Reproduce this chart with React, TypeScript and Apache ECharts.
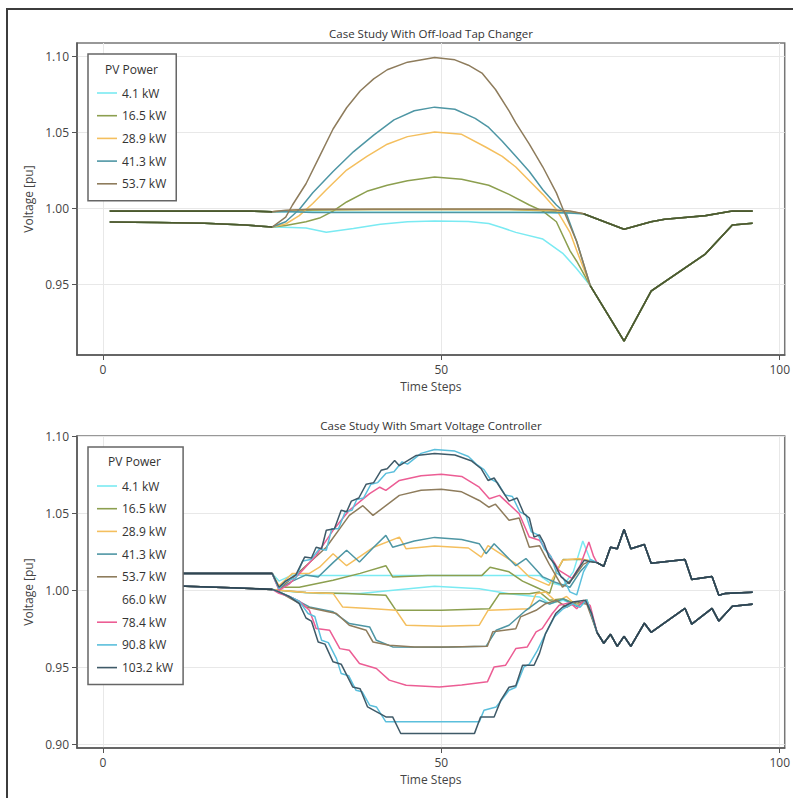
import React, { useEffect, useRef } from 'react';
import * as echarts from 'echarts';

// ---------- names / colours ----------
const topNames = ['4.1 kW', '16.5 kW', '28.9 kW', '41.3 kW', '53.7 kW'];
const botNames = ['4.1 kW', '16.5 kW', '28.9 kW', '41.3 kW', '53.7 kW', '66.0 kW', '78.4 kW', '90.8 kW', '103.2 kW'];
const topColors = ['#7aeaf2', '#8c9f4f', '#f4bf5e', '#4e96a4', '#8e7c5c'];
const botColors = ['#7aeaf2', '#8c9f4f', '#f4bf5e', '#4e96a4', '#8e7c5c', '#ffffff', '#ec5d94', '#5bbfdc', '#3f5a68'];
const xTicks = [0, 50, 100];
const topYTicks = [0.95, 1.0, 1.05, 1.1];
const botYTicks = [0.9, 0.95, 1.0, 1.05, 1.1];

// ---------- top chart (Off-load Tap Changer) ----------
const topStartA = [[1, 0.998], [12, 0.998], [22, 0.998], [25, 0.9975]];
const topStartB = [[1, 0.9908], [8, 0.9905], [15, 0.99], [21, 0.9888], [25, 0.9875]];
const topEndA = [[71, 0.9962], [77, 0.986], [81, 0.991], [83, 0.9926], [89, 0.995], [93, 0.998], [96, 0.998]];
const topEndB = [[72, 0.949], [77, 0.9125], [81, 0.9454], [89, 0.9697], [93, 0.9888], [96, 0.99]];

const top41A = [[27, 0.9975], [35, 0.9972], [50, 0.9972], [62, 0.9972], [68, 0.9968]];
const top165A = [[27, 0.998], [30, 0.9985], [40, 0.999], [60, 0.999], [66, 0.998], [69, 0.9975]];
const top289A = [[27, 0.9982], [30, 0.999], [60, 0.999], [66, 0.9985], [69, 0.9975]];
const top413A = [[27, 0.9978], [31, 0.997], [60, 0.997], [66, 0.997], [69, 0.9968]];
const top537A = [[27, 0.9985], [31, 0.9992], [60, 0.9993], [66, 0.999], [69, 0.998]];

const top41B = [[28, 0.9872], [30, 0.9868], [33, 0.984], [37, 0.9865], [41, 0.9893], [45, 0.991], [49, 0.9914], [54, 0.9912], [57, 0.9898], [59, 0.987], [61, 0.984], [65, 0.9796], [68, 0.97], [70, 0.96]];
const top165B = [[27, 0.9885], [30, 0.991], [32, 0.9934], [34, 0.998], [36, 1.004], [39, 1.011], [42, 1.015], [45, 1.018], [49, 1.0204], [53, 1.019], [57, 1.015], [60, 1.009], [63, 1.002], [65, 0.998], [67, 0.991], [69, 0.972], [70, 0.965]];
const top289B = [[27, 0.9895], [29, 0.995], [31, 1.003], [33, 1.012], [36, 1.025], [39, 1.034], [42, 1.042], [45, 1.047], [49, 1.05], [53, 1.0485], [56.6, 1.04], [59, 1.034], [61, 1.027], [63, 1.018], [65, 1.009], [67, 0.999], [69, 0.984], [70, 0.972]];
const top413B = [[27, 0.991], [29, 0.999], [31, 1.01], [34, 1.024], [37, 1.037], [40, 1.048], [43, 1.058], [46, 1.064], [49, 1.0664], [52, 1.065], [55, 1.059], [57, 1.053], [59, 1.044], [61, 1.034], [63, 1.024], [65, 1.012], [67, 1.002], [68.5, 0.996], [70, 0.978]];
const top537B = [[27, 0.994], [28, 1.002], [30, 1.016], [32, 1.034], [34, 1.052], [36, 1.066], [38, 1.077], [40, 1.085], [42, 1.091], [45, 1.096], [49, 1.099], [52, 1.0975], [54, 1.094], [56, 1.0888], [58, 1.078], [60, 1.064], [61, 1.056], [63, 1.042], [65, 1.027], [67, 1.01], [68, 0.999], [70, 0.978]];

// ---------- bottom chart (Smart Voltage Controller) ----------
const botStartU = [[1, 1.011], [10, 1.011], [20, 1.011], [25, 1.011]];
const botStartL = [[1, 1.0036], [10, 1.003], [20, 1.0015], [25, 1.0006]];
const botEndU = [[73, 1.018], [74, 1.0156], [75, 1.028], [76, 1.027], [77, 1.0396], [78, 1.027], [80, 1.0298], [81, 1.0176], [86, 1.02], [87, 1.0071], [90, 1.009], [91, 0.9968], [92, 0.998], [96, 0.9987]];
const botEndL = [[73, 0.9727], [74, 0.9656], [75, 0.9714], [76, 0.9636], [77, 0.9701], [78, 0.9636], [80, 0.9786], [81, 0.9727], [86, 0.9883], [87, 0.978], [90, 0.9883], [91, 0.98], [93, 0.9896], [96, 0.991]];

const bot41U = [[26, 1.006], [28, 1.01], [30, 1.0097], [50, 1.0097], [64.5, 1.0097], [66, 1.005], [68, 1.003], [69.5, 1.012], [70.9, 1.032], [72, 1.02]];
const bot41L = [[26, 1.0], [28, 0.999], [32, 0.998], [38, 0.998], [44, 1.0005], [49, 1.0026], [55.6, 1.001], [60, 0.9978], [64.5, 0.9957], [66, 0.9913], [68, 0.9935], [70, 0.99], [71.5, 0.9935]];
const bot165U = [[26, 1.002], [29, 1.002], [34, 1.0065], [38, 1.011], [41.8, 1.016], [42.8, 1.0087], [48, 1.0097], [56, 1.0097], [57.2, 1.015], [60, 1.012], [62, 1.006], [64, 1.002], [66, 0.998], [67, 1.012], [68, 1.02], [71, 1.02], [72, 1.019]];
const bot165L = [[26, 1.0], [30, 0.9985], [36, 0.998], [41.8, 0.9968], [43.3, 0.987], [50, 0.987], [57.1, 0.988], [58.6, 0.9978], [63, 0.9978], [64.5, 0.9989], [66, 0.9935], [68, 0.9945], [70, 0.991], [71.5, 0.993]];
const bot289U = [[26, 1.003], [28, 1.011], [30.5, 1.011], [32, 1.015], [34, 1.0238], [36, 1.016], [40, 1.028], [43.8, 1.0346], [44.8, 1.027], [49, 1.0288], [54, 1.0275], [55.9, 1.0216], [56.9, 1.029], [59, 1.023], [61, 1.0173], [63, 1.0087], [65.9, 1.0032], [67.9, 1.0195], [70.4, 1.0206], [72, 1.019]];
const bot289L = [[26, 1.0], [30, 0.9985], [34, 0.998], [35.4, 0.9892], [40, 0.988], [43.3, 0.987], [44.8, 0.9773], [50, 0.9766], [55.6, 0.9773], [56.9, 0.987], [63, 0.988], [64, 0.9978], [65.4, 0.9989], [67, 0.9925], [68.5, 0.996], [70, 0.99], [71.5, 0.994]];
const bot413U = [[26, 1.001], [28, 1.006], [30, 1.01], [31.8, 1.0087], [34, 1.018], [36, 1.026], [37.9, 1.0184], [40, 1.028], [41.8, 1.0357], [42.8, 1.028], [46, 1.032], [49, 1.0344], [53, 1.033], [55.6, 1.0303], [56.6, 1.0238], [57.8, 1.0303], [61, 1.016], [62.5, 1.0206], [65, 1.0087], [66.7, 1.0054], [69, 1.002], [70.5, 1.012], [72, 1.019]];
const bot413L = [[26, 0.999], [28, 0.995], [30.5, 0.9892], [34, 0.986], [36.4, 0.9784], [39.4, 0.9762], [40.4, 0.9675], [42.8, 0.9632], [50, 0.963], [56.6, 0.9636], [58.1, 0.974], [60, 0.9773], [62.5, 0.987], [64.5, 0.9935], [66, 0.991], [68, 0.9945], [70, 0.9895], [71.5, 0.993]];
const bot537U = [[26, 1.001], [28, 1.008], [30, 1.016], [33, 1.028], [36.4, 1.0487], [38.4, 1.055], [39.9, 1.0487], [43.8, 1.0617], [47, 1.065], [50, 1.0657], [53, 1.064], [55.6, 1.0584], [57, 1.054], [58, 1.056], [60, 1.0455], [61.5, 1.047], [63, 1.028], [64.5, 1.029], [65.9, 1.0173], [67.9, 1.002], [69.5, 1.008], [71, 1.017], [72, 1.019]];
const bot537L = [[26, 0.999], [28, 0.994], [30, 0.9892], [34.5, 0.9849], [36.4, 0.9773], [38.9, 0.974], [39.9, 0.9664], [42.3, 0.9643], [46, 0.9632], [51, 0.9632], [56.8, 0.9636], [57.6, 0.973], [61, 0.975], [61.7, 0.9827], [64, 0.987], [65.4, 0.9913], [67, 0.9935], [68.5, 0.989], [70, 0.9925], [71.5, 0.991]];
const bot660U: number[][] = [];
const bot660L: number[][] = [];
const bot784U = [[26, 1.0], [27.5, 1.004], [29.5, 1.013], [31.5, 1.0227], [34, 1.039], [36.4, 1.052], [39.4, 1.0628], [40.9, 1.067], [41.8, 1.065], [43.8, 1.0714], [47, 1.0745], [50, 1.0755], [53, 1.074], [55.6, 1.067], [57.1, 1.0595], [58.6, 1.0617], [61.5, 1.0498], [63, 1.0346], [64.5, 1.0325], [65.9, 1.0238], [67.4, 1.013], [69.3, 1.0078], [70.5, 1.016], [71.8, 1.0314], [72.5, 1.022]];
const bot784L = [[26, 0.998], [27.5, 0.996], [29, 0.993], [30.5, 0.987], [31.5, 0.9751], [33.5, 0.974], [35, 0.9621], [36.4, 0.961], [37.9, 0.9524], [40.4, 0.9492], [42.3, 0.9416], [44.8, 0.9383], [49.7, 0.9372], [53, 0.9385], [56.8, 0.9405], [57.8, 0.9502], [59.5, 0.9513], [61, 0.9621], [62.7, 0.9632], [64, 0.973], [64.9, 0.9751], [66.4, 0.9849], [67.4, 0.9903], [69, 0.992], [70, 0.988], [71, 0.9935], [72, 0.99]];
const bot908U = [[26, 1.001], [27, 1.006], [28.5, 1.008], [29.5, 1.019], [30.7, 1.02], [32, 1.027], [33, 1.026], [33.8, 1.04], [34.8, 1.04], [35.8, 1.051], [36.8, 1.052], [37.5, 1.059], [38.5, 1.06], [39.6, 1.069], [40.6, 1.07], [41.8, 1.076], [43, 1.077], [44.2, 1.0835], [45, 1.082], [47, 1.089], [49, 1.0915], [52, 1.0905], [54, 1.087], [55.3, 1.0815], [56.3, 1.0785], [57.2, 1.0725], [58.3, 1.07], [59.4, 1.062], [60.5, 1.061], [61.6, 1.051], [62.5, 1.049], [63.3, 1.038], [64.3, 1.036], [65.2, 1.027], [66.2, 1.022], [67, 1.0115], [68, 1.008], [69, 0.999], [70, 0.997], [71, 1.012], [72, 1.02]];
const bot908L = [[26, 0.999], [28, 0.995], [29, 0.993], [30.3, 0.9849], [31.3, 0.983], [32.3, 0.9675], [33.3, 0.966], [34.5, 0.9556], [35.2, 0.9459], [36.3, 0.9445], [37.4, 0.935], [38.3, 0.934], [39.4, 0.9253], [40.4, 0.9242], [41.8, 0.9145], [48, 0.9145], [55.6, 0.9145], [56.3, 0.922], [58.1, 0.9242], [60, 0.935], [61, 0.937], [62.2, 0.9502], [63, 0.952], [64.2, 0.961], [65.4, 0.9719], [66.7, 0.9827], [68, 0.988], [69.4, 0.9913], [70.5, 0.989], [71.5, 0.994]];
const bot1032U = [[26, 1.002], [27, 1.006], [28.5, 1.01], [29.8, 1.0216], [30.8, 1.021], [31.5, 1.028], [32.3, 1.027], [33, 1.039], [34.2, 1.04], [35.2, 1.052], [36, 1.051], [36.7, 1.058], [37.8, 1.06], [38.9, 1.069], [40, 1.07], [41.1, 1.078], [42, 1.079], [43.1, 1.0844], [43.8, 1.081], [46.3, 1.0877], [49, 1.089], [52, 1.088], [54.5, 1.084], [55.9, 1.079], [56.9, 1.0714], [57.8, 1.073], [58.8, 1.066], [60, 1.058], [61.2, 1.06], [62.2, 1.0498], [63, 1.047], [63.7, 1.0346], [64.5, 1.036], [65.2, 1.0303], [65.9, 1.0216], [66.7, 1.0173], [67.7, 1.0087], [68.9, 1.0043], [70.1, 1.013], [71.1, 1.0195], [72, 1.0185]];
const bot1032L = [[26, 0.999], [27.5, 0.996], [29, 0.9913], [30, 0.982], [30.8, 0.98], [31.8, 0.9664], [32.8, 0.965], [34, 0.9535], [35.2, 0.952], [36.9, 0.9372], [38, 0.936], [39.1, 0.9242], [41.8, 0.9177], [42.8, 0.9177], [44, 0.9069], [50, 0.9069], [54.9, 0.907], [55.8, 0.9177], [57.8, 0.9177], [58.8, 0.9286], [60, 0.937], [61, 0.938], [62, 0.9513], [63.7, 0.9513], [64.5, 0.959], [65.4, 0.9719], [66.9, 0.9849], [67.9, 0.989], [69.4, 0.9924], [71.3, 0.9935], [72.2, 0.985]];

const topMidA = [top41A, top165A, top289A, top413A, top537A];
const topMidB = [top41B, top165B, top289B, top413B, top537B];
const botMidU = [bot41U, bot165U, bot289U, bot413U, bot537U, bot660U, bot784U, bot908U, bot1032U];
const botMidL = [bot41L, bot165L, bot289L, bot413L, bot537L, bot660L, bot784L, bot908L, bot1032L];

const FONT = 'Open Sans';
const TOP_OVERLAY = '#4a5a2e';
const BOT_OVERLAY = '#2e4552';

function line(name: string, color: string, data: number[][], gi: number, width = 1.5, z = 2) {
  return {
    type: 'line', name, data, xAxisIndex: gi, yAxisIndex: gi,
    symbol: 'none', showSymbol: false, silent: true, z,
    lineStyle: { color, width }, itemStyle: { color },
  };
}

function xAxisCfg(gi: number) {
  return {
    type: 'value', gridIndex: gi, min: -3.84, max: 100.74,
    name: 'Time Steps', nameLocation: 'middle', nameGap: 25,
    nameTextStyle: { color: '#444', fontSize: 12, fontFamily: FONT },
    axisLine: { show: true, onZero: false, lineStyle: { color: '#555', width: 1.5 } },
    axisTick: { show: true, customValues: xTicks, length: 5, lineStyle: { color: '#555' } },
    axisLabel: { customValues: xTicks, color: '#444', fontSize: 12, fontFamily: FONT, margin: 8 },
    splitLine: { show: true, lineStyle: { color: '#e8e8e8', width: 1 } },
  };
}

function yAxisCfg(gi: number, min: number, max: number, ticks: number[]) {
  return {
    type: 'value', gridIndex: gi, min, max,
    name: 'Voltage [pu]', nameLocation: 'middle', nameGap: 43, nameRotate: 90,
    nameTextStyle: { color: '#444', fontSize: 12, fontFamily: FONT },
    axisLine: { show: true, onZero: false, lineStyle: { color: '#555', width: 1.5 } },
    axisTick: { show: true, customValues: ticks, length: 5, lineStyle: { color: '#555' } },
    axisLabel: { customValues: ticks, color: '#444', fontSize: 12, fontFamily: FONT, margin: 8, formatter: (v: number) => v.toFixed(2) },
    splitLine: { show: true, lineStyle: { color: '#e8e8e8', width: 1 } },
  };
}

function legendCfg(top: number, names: string[]) {
  return {
    orient: 'vertical', left: 88, top, data: names.map((n) => ({ name: n, icon: 'rect' })),
    padding: [32, 10, 10, 9], itemGap: 8.7, itemWidth: 20, itemHeight: 1.6,
    borderColor: '#666', borderWidth: 1.5, backgroundColor: '#fff',
    textStyle: { color: '#333', fontSize: 12, fontFamily: FONT, lineHeight: 14 },
    selectedMode: false,
  };
}

function buildOption() {
  const series: any[] = [];
  topNames.forEach((n, i) => {
    series.push(line(n, topColors[i], [...topStartA, ...topMidA[i], ...topEndA], 0));
    series.push(line(n, topColors[i], [...topStartB, ...topMidB[i], ...topEndB], 0));
  });
  series.push(line('shared', TOP_OVERLAY, topStartA, 0, 1.6, 3));
  series.push(line('shared', TOP_OVERLAY, topStartB, 0, 1.6, 3));
  series.push(line('shared', TOP_OVERLAY, topEndA, 0, 1.6, 3));
  series.push(line('shared', TOP_OVERLAY, topEndB, 0, 1.6, 3));

  botNames.forEach((n, i) => {
    const u = botMidU[i].length ? [...botStartU, ...botMidU[i], ...botEndU] : [];
    const l = botMidL[i].length ? [...botStartL, ...botMidL[i], ...botEndL] : [];
    series.push(line(n, botColors[i], u, 1));
    series.push(line(n, botColors[i], l, 1));
  });
  series.push(line('shared2', BOT_OVERLAY, botStartU, 1, 1.6, 3));
  series.push(line('shared2', BOT_OVERLAY, botStartL, 1, 1.6, 3));
  series.push(line('shared2', BOT_OVERLAY, botEndU, 1, 1.6, 3));
  series.push(line('shared2', BOT_OVERLAY, botEndL, 1, 1.6, 3));

  return {
    animation: false,
    backgroundColor: '#fff',
    textStyle: { fontFamily: FONT },
    grid: [
      { left: 77, top: 43, width: 708, height: 312, show: true, borderColor: '#777', borderWidth: 1.5, backgroundColor: 'transparent' },
      { left: 77, top: 436, width: 708, height: 312, show: true, borderColor: '#777', borderWidth: 1.5, backgroundColor: 'transparent' },
    ],
    xAxis: [xAxisCfg(0), xAxisCfg(1)],
    yAxis: [yAxisCfg(0, 0.9033, 1.1086, topYTicks), yAxisCfg(1, 0.8975, 1.1003, botYTicks)],
    legend: [legendCfg(54, topNames), legendCfg(447, botNames)],
    series,
    graphic: [
      { type: 'rect', shape: { x: 7, y: 9, width: 820, height: 820 }, style: { fill: 'none', stroke: '#3c3c3c', lineWidth: 2 }, silent: true, z: 100 },
      { type: 'text', x: 431, y: 33, style: { text: 'Case Study With Off-load Tap Changer', textAlign: 'center', textVerticalAlign: 'middle', fill: '#333', fontSize: 11.5, fontFamily: FONT }, z: 100 },
      { type: 'text', x: 431, y: 425, style: { text: 'Case Study With Smart Voltage Controller', textAlign: 'center', textVerticalAlign: 'middle', fill: '#333', fontSize: 11.5, fontFamily: FONT }, z: 100 },
      { type: 'text', x: 105, y: 69, style: { text: 'PV Power', textAlign: 'left', textVerticalAlign: 'middle', fill: '#333', fontSize: 12, fontFamily: FONT }, z: 100 },
      { type: 'text', x: 108, y: 461, style: { text: 'PV Power', textAlign: 'left', textVerticalAlign: 'middle', fill: '#333', fontSize: 12, fontFamily: FONT }, z: 100 },
    ],
  };
}

export default function App() {
  const ref = useRef<HTMLDivElement>(null);
  useEffect(() => {
    document.body.style.margin = '0';
    const chart = echarts.init(ref.current as HTMLDivElement, null, { renderer: 'svg' });
    chart.setOption(buildOption() as any);
    return () => chart.dispose();
  }, []);
  return <div ref={ref} style={{ width: 793, height: 798 }} />;
}
